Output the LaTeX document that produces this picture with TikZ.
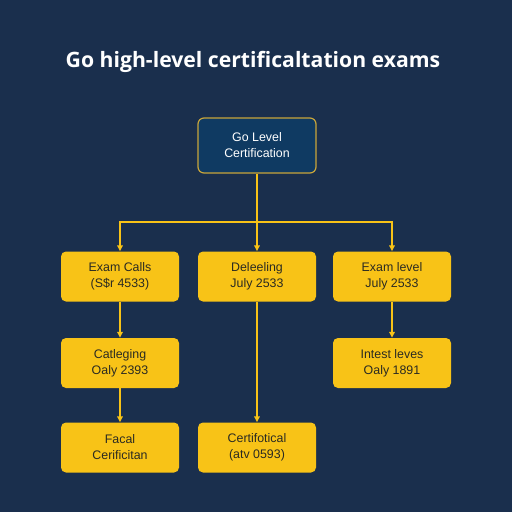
\documentclass[tikz,border=0pt]{standalone}
\usepackage{fontspec}
\setmainfont{Liberation Sans}
\newfontfamily\titlefont{Open Sans}
\usetikzlibrary{arrows.meta}
\definecolor{bgc}{HTML}{1A2F4D}
\definecolor{topfill}{HTML}{0F3A62}
\definecolor{gold}{HTML}{F8C317}
\definecolor{goldline}{HTML}{C9A53A}
\definecolor{txt}{HTML}{2A2A22}
\begin{document}
\begin{tikzpicture}[x=1pt,y=-1pt,
  box/.style={draw=none,fill=gold,rounded corners=5pt,minimum width=118pt,minimum height=50pt,
    align=center,font=\fontsize{12.4}{16}\selectfont,text=txt,inner sep=0pt},
  topbox/.style={draw=goldline,line width=1.2pt,fill=topfill,rounded corners=6pt,minimum width=118pt,
    minimum height=55pt,align=center,font=\fontsize{12.4}{16}\selectfont,text=white,inner sep=0pt},
  conn/.style={draw=gold,line width=1.8pt},
  arr/.style={conn,-{Triangle[length=6pt,width=5.5pt]}}]
\fill[bgc] (0,0) rectangle (512,512);
\useasboundingbox (0,0) rectangle (512,512);
\node[text=white,font=\titlefont\bfseries\fontsize{21.2}{24}\selectfont] (title) at (253,61.5) {Go high-level certificaltation exams};
\node[topbox] (top) at (257,145.5) {Go Level\\Certification};
\node[box] (a1) at (120,276.5) {Exam Calls\\(S\$r 4533)};
\node[box] (b1) at (257,276.5) {Deleeling\\July 2533};
\node[box] (c1) at (392,276.5) {Exam level\\July 2533};
\node[box] (a2) at (120,363) {Catleging\\Oaly 2393};
\node[box] (c2) at (392,363) {Intest leves\\Oaly 1891};
\node[box] (a3) at (120,447.5) {Facal\\Cerificitan};
\node[box] (b3) at (257,447.5) {Certifotical\\(atv 0593)};
\coordinate (j) at (257,222);
\draw[conn] (top.south) -- (j);
\draw[arr] (j) -| (a1.north);
\draw[arr] (j) -- (b1.north);
\draw[arr] (j) -| (c1.north);
\draw[arr] (a1) -- (a2);
\draw[arr] (a2) -- (a3);
\draw[arr] (b1) -- (b3);
\draw[arr] (c1) -- (c2);
\end{tikzpicture}
\end{document}
